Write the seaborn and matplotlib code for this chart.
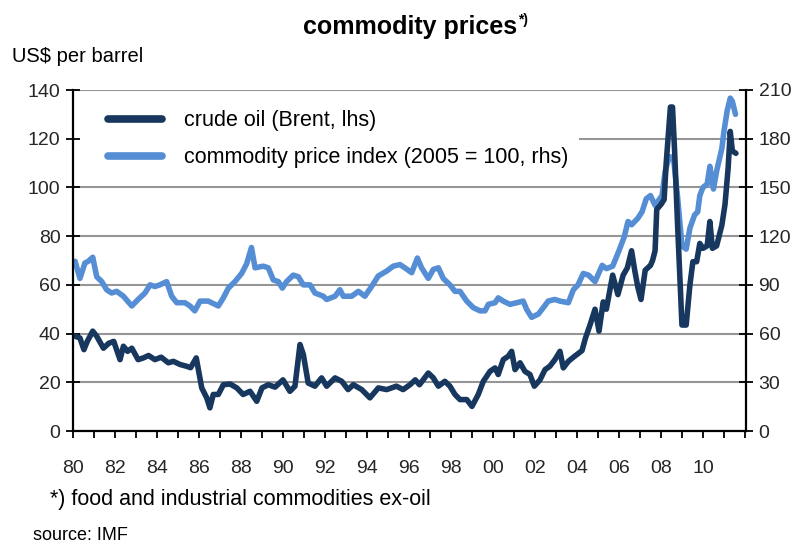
import matplotlib
matplotlib.use("Agg")
import matplotlib.pyplot as plt
import seaborn as sns
import pandas as pd
from matplotlib.ticker import FixedLocator, FixedFormatter
from matplotlib.lines import Line2D
from matplotlib.patches import Rectangle

# ---- data ----
oil_year = [1980.0, 1980.1, 1980.33, 1980.52, 1980.68, 1980.94, 1981.13, 1981.45, 1981.7, 1981.94,
            1982.24, 1982.4, 1982.6, 1982.8, 1983.1, 1983.35, 1983.6, 1983.9, 1984.2, 1984.54,
            1984.78, 1985.1, 1985.4, 1985.6, 1985.87, 1986.13, 1986.37, 1986.52, 1986.68, 1986.92,
            1987.16, 1987.48, 1987.8, 1988.1, 1988.43, 1988.75, 1989.0, 1989.3, 1989.62, 1990.0,
            1990.33, 1990.57, 1990.81, 1990.97, 1991.2, 1991.52, 1991.84, 1992.08, 1992.48, 1992.8,
            1993.1, 1993.35, 1993.75, 1994.14, 1994.54, 1994.94, 1995.4, 1995.72, 1996.05, 1996.3,
            1996.5, 1996.92, 1997.16, 1997.4, 1997.71, 1997.95, 1998.19, 1998.43, 1998.75, 1999.0,
            1999.3, 1999.54, 1999.86, 2000.1, 2000.25, 2000.49, 2000.73, 2000.89, 2001.05, 2001.29,
            2001.52, 2001.76, 2001.97, 2002.24, 2002.48, 2002.71, 2002.95, 2003.19, 2003.35, 2003.59,
            2003.83, 2004.24, 2004.4, 2004.62, 2004.86, 2005.05, 2005.25, 2005.4, 2005.7, 2005.95,
            2006.2, 2006.4, 2006.6, 2006.75, 2006.9, 2007.05, 2007.25, 2007.5, 2007.6, 2007.72,
            2007.8, 2008.0, 2008.15, 2008.25, 2008.45, 2008.55, 2008.65, 2008.78, 2009.0, 2009.2,
            2009.38, 2009.52, 2009.7, 2009.85, 2010.0, 2010.2, 2010.33, 2010.45, 2010.65, 2010.9,
            2011.05, 2011.2, 2011.3, 2011.4, 2011.57]
oil_price = [39, 38.9, 38.2, 33.4, 36.8, 41, 38.9, 34, 36, 36.8,
             29.3, 34.8, 32.7, 34, 29.3, 30, 31, 29.3, 30.3, 28,
             28.6, 27.3, 26.6, 26, 30, 17.7, 13.6, 9.5, 15, 15,
             19, 19.3, 17.7, 15, 16.3, 12.2, 17.7, 19, 18, 21,
             16.3, 18.4, 35.5, 31.4, 19.7, 18.4, 21.8, 18.4, 21.8, 20.4,
             17, 19, 17, 13.6, 17.7, 17, 18.4, 17, 19, 21,
             19, 23.8, 21.8, 18.4, 20.4, 18.4, 15, 12.9, 12.9, 10.1,
             15, 20.4, 24.5, 25.9, 23.2, 29.3, 30.7, 32.7, 25.2, 28,
             24.5, 23.2, 18.4, 21, 25.2, 26.6, 29.3, 32.7, 25.9, 28.6,
             30.3, 33, 38, 43.5, 50, 41, 53, 50, 64, 56,
             64, 67, 74, 66, 59, 54, 66, 68, 70, 74,
             91, 93, 95, 110, 133, 133, 115, 87, 43.5, 43.5,
             60, 69.5, 69.5, 77, 75, 76, 86, 75, 76, 84.5,
             93, 108, 123, 115, 114]

index_year = [1980.0, 1980.1, 1980.33, 1980.57, 1980.73, 1980.94, 1981.13, 1981.37, 1981.6, 1981.84,
              1982.08, 1982.4, 1982.8, 1983.1, 1983.43, 1983.67, 1983.9, 1984.14, 1984.46, 1984.7,
              1984.94, 1985.33, 1985.57, 1985.8, 1986.05, 1986.44, 1986.92, 1987.16, 1987.4, 1987.71,
              1988.03, 1988.27, 1988.5, 1988.67, 1989.06, 1989.3, 1989.54, 1989.78, 1989.97, 1990.17,
              1990.49, 1990.73, 1990.97, 1991.29, 1991.52, 1991.92, 1992.08, 1992.48, 1992.71, 1992.87,
              1993.27, 1993.59, 1993.9, 1994.22, 1994.54, 1994.94, 1995.25, 1995.57, 1995.8, 1996.13,
              1996.4, 1996.6, 1996.92, 1997.16, 1997.4, 1997.63, 1997.95, 1998.19, 1998.43, 1998.75,
              1999.06, 1999.38, 1999.62, 1999.78, 2000.1, 2000.25, 2000.49, 2000.81, 2001.13, 2001.44,
              2001.6, 2001.84, 2002.16, 2002.4, 2002.63, 2002.95, 2003.19, 2003.59, 2003.83, 2004.05,
              2004.3, 2004.55, 2004.86, 2005.2, 2005.4, 2005.7, 2006.0, 2006.25, 2006.43, 2006.6,
              2006.9, 2007.1, 2007.3, 2007.5, 2007.72, 2008.05, 2008.2, 2008.4, 2008.6, 2008.8,
              2009.0, 2009.2, 2009.38, 2009.6, 2009.75, 2009.85, 2010.0, 2010.2, 2010.33, 2010.5,
              2010.65, 2010.9, 2011.0, 2011.15, 2011.3, 2011.4, 2011.55]
index_value = [104, 104.5, 94, 103.5, 104.5, 107, 95, 92, 87, 85,
               86, 83, 77, 81, 85, 90, 89, 90, 92, 83,
               79, 79, 77, 74, 80, 80, 77, 82, 88, 92,
               97, 103, 113, 100.5, 101.5, 100.5, 93, 92, 88, 92,
               96, 95, 90, 90, 85, 83, 81, 83, 87, 83,
               83, 86, 83, 89, 95.5, 98.5, 101.5, 102.5, 100.5, 97.5,
               106.5, 100.5, 94, 99.5, 100.5, 94, 90, 86, 86, 80,
               76, 74, 74, 78, 79, 82, 80, 78, 79, 80,
               75, 70, 72, 76, 80, 81, 80, 79, 87, 90,
               97, 96, 92, 102, 100, 101.5, 111, 119.5, 129, 127,
               131, 135, 143, 145, 139, 145, 160, 169, 168, 143,
               114, 112, 125, 133, 135, 145, 150, 152, 163, 149,
               160, 174, 184.5, 197, 205, 203, 195]

x_tick_years = list(range(1980, 2013))
x_tick_labels = [f"{y % 100:02d}" if y % 2 == 0 and y <= 2010 else "" for y in x_tick_years]
left_ticks = [0, 20, 40, 60, 80, 100, 120, 140]
right_ticks = [0, 30, 60, 90, 120, 150, 180, 210]

oil_label = "crude oil (Brent, lhs)"
index_label = "commodity price index (2005 = 100, rhs)"

oil_df = pd.DataFrame({"year": oil_year, "price": oil_price})
index_df = pd.DataFrame({"year": index_year, "value": index_value})

# ---- style ----
sns.set_theme(style="white")
plt.rcParams["font.family"] = ["Liberation Sans", "DejaVu Sans"]

DARK = "#17375E"
LIGHT = "#558ED5"
GRID = "#969696"

fig = plt.figure(figsize=(8.08, 5.45), dpi=100)
ax = fig.add_axes([73 / 808, 1 - 431 / 545, (746 - 73) / 808, (431 - 90) / 545])
ax2 = ax.twinx()
ax.set_zorder(ax2.get_zorder() + 1)
ax.patch.set_visible(False)

sns.lineplot(data=index_df, x="year", y="value", ax=ax2, color=LIGHT, lw=4,
             estimator=None, legend=False, solid_capstyle="round", solid_joinstyle="round")
sns.lineplot(data=oil_df, x="year", y="price", ax=ax, color=DARK, lw=4,
             estimator=None, legend=False, solid_capstyle="round", solid_joinstyle="round")

ax.set_xlim(1980, 2012.05)
ax.set_ylim(0, 140)
ax2.set_ylim(0, 210)
ax.set_xlabel("")
ax.set_ylabel("")
ax2.set_ylabel("")

ax.xaxis.set_major_locator(FixedLocator(x_tick_years))
ax.xaxis.set_major_formatter(FixedFormatter(x_tick_labels))
ax.set_yticks(left_ticks)
ax2.set_yticks(right_ticks)

ax2.yaxis.grid(True, color=GRID, lw=1.5)
ax2.xaxis.grid(False)
ax.grid(False)

for a in (ax, ax2):
    for s in a.spines.values():
        s.set_visible(False)
ax.spines["left"].set_visible(True)
ax.spines["bottom"].set_visible(True)
ax2.spines["right"].set_visible(True)
for s in (ax.spines["left"], ax.spines["bottom"], ax2.spines["right"]):
    s.set_color("black")
    s.set_linewidth(1.6)

ax.tick_params(axis="x", direction="out", length=5, width=1.3, color="black",
               labelsize=14, pad=16, bottom=True)
ax.tick_params(axis="y", direction="inout", length=10, width=1.3, color="black",
               labelsize=14, pad=4, left=True)
ax2.tick_params(axis="y", direction="inout", length=10, width=1.3, color="black",
                labelsize=14, pad=4, right=True)

# white legend background band (hides the 120 gridline behind the legend)
ax2.add_patch(Rectangle((0.0, 0.76), (579 - 73) / 673, 0.225, transform=ax2.transAxes,
                        facecolor="white", edgecolor="none", zorder=4))

handles = [Line2D([], [], color=DARK, lw=5.5, solid_capstyle="round"),
           Line2D([], [], color=LIGHT, lw=5.5, solid_capstyle="round")]
leg = ax2.legend(handles, [oil_label, index_label], loc="upper left",
                 bbox_to_anchor=(0.043, 0.96), frameon=False,
                 fontsize=15.5, handlelength=2.5, handletextpad=1.0,
                 labelspacing=0.75, borderpad=0.3, borderaxespad=0.0)
leg.set_zorder(5)
for t in leg.get_texts():
    t.set_color("black")

title = fig.text(0.507, 1 - 27 / 545, "commodity prices", ha="center", va="center",
                 fontsize=18, fontweight="bold", color="black")
fig.canvas.draw()
bb = title.get_window_extent()
fig.text((bb.x1 + 1) / 808, (bb.y1 + 2) / 545, "*)", ha="left", va="top",
         fontsize=10, fontweight="bold", color="black")

fig.text(12 / 808, 1 - 57 / 545, "US$ per barrel", ha="left", va="center",
         fontsize=14.5, color="black")
fig.text(50 / 808, 1 - 499 / 545, "*) food and industrial commodities ex-oil",
         ha="left", va="center", fontsize=15.5, color="black")
fig.text(33 / 808, 1 - 535 / 545, "source: IMF", ha="left", va="center",
         fontsize=13, color="black")

fig.savefig("out.png", dpi=100)
